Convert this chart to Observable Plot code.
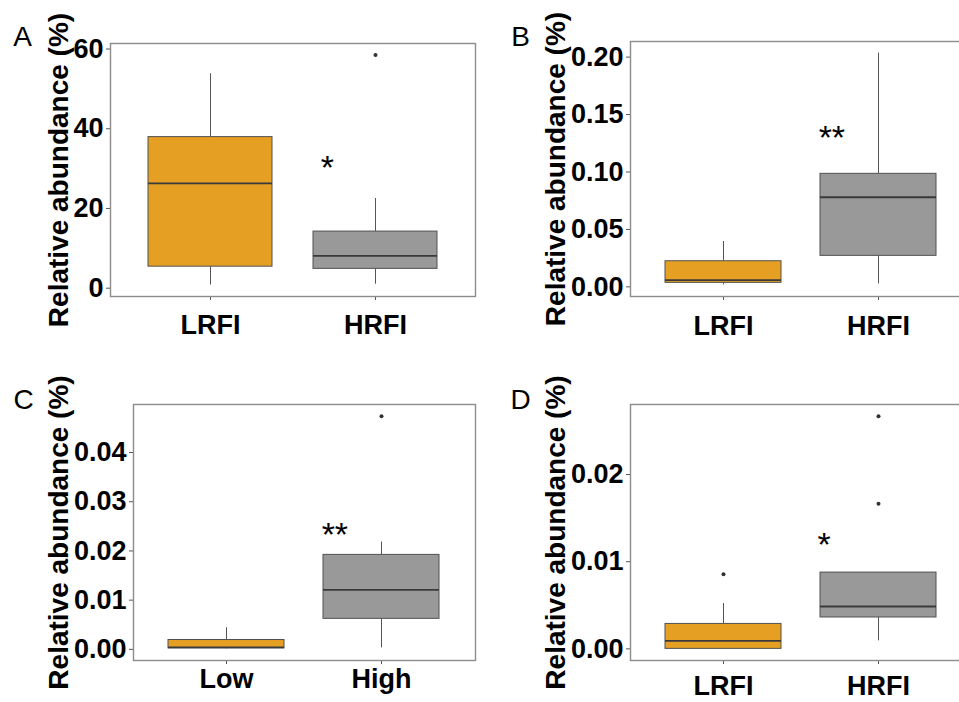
<!DOCTYPE html>
<html>
<head>
<meta charset="utf-8">
<script src="https://cdn.jsdelivr.net/npm/d3@7"></script>
<script src="https://cdn.jsdelivr.net/npm/@observablehq/plot@0.6"></script>
<style>
  html, body { margin: 0; padding: 0; background: #fff; }
  #wrap { position: relative; width: 959px; height: 702px; overflow: hidden; background: #fff; }
  .panel { position: absolute; }
</style>
</head>
<body>
<div id="wrap"></div>
<script>
// ---------- data ----------
const catsRFI = ["LRFI", "HRFI"];
const catsLevel = ["Low", "High"];
const yTitle = "Relative abundance (%)";

// Panel A
const aLo  = [0.8, 1.0];
const aQ1  = [5.4, 4.85];
const aMed = [26.3, 8.1];
const aQ3  = [37.9, 14.2];
const aHi  = [53.8, 22.5];
const aOut = [["HRFI", 58.5]];
const aTicks = [0, 20, 40, 60];
const aSig = "*", aSigY = 32.5, aSigPos = 1.71;

// Panel B
const bLo  = [0.0017, 0.0026];
const bQ1  = [0.0035, 0.027];
const bMed = [0.0058, 0.078];
const bQ3  = [0.0223, 0.0984];
const bHi  = [0.0395, 0.2035];
const bOut = [];
const bTicks = [0, 0.05, 0.10, 0.15, 0.20];
const bSig = "**", bSigY = 0.1374, bSigPos = 1.70;

// Panel C
const cLo  = [0.0001, 0.0003];
const cQ1  = [0.0002, 0.0062];
const cMed = [0.0004, 0.0121];
const cQ3  = [0.0019, 0.0192];
const cHi  = [0.0044, 0.0218];
const cOut = [["High", 0.0474]];
const cTicks = [0, 0.01, 0.02, 0.03, 0.04];
const cSig = "**", cSigY = 0.025, cSigPos = 1.70;

// Panel D
const dLo  = [0.0, 0.00092];
const dQ1  = [0.0, 0.0036];
const dMed = [0.00092, 0.00486];
const dQ3  = [0.00286, 0.00875];
const dHi  = [0.0052, 0.00875];
const dOut = [["LRFI", 0.00856], ["HRFI", 0.01666], ["HRFI", 0.0267]];
const dTicks = [0, 0.01, 0.02];
const dSig = "*", dSigY = 0.0129, dSigPos = 1.65;

const fills = ["#E5A023", "#999999"];
const fontFamily = '"Liberation Sans", Arial, Helvetica, sans-serif';

function panel(cfg) {
  const rows = cfg.cats.map((g, i) => ({g, lo: cfg.lo[i], q1: cfg.q1[i], med: cfg.med[i], q3: cfg.q3[i], hi: cfg.hi[i]}));
  const outs = cfg.out.map(([g, v]) => ({g, v}));
  const vals = [...cfg.lo, ...cfg.hi, ...outs.map(d => d.v)];
  const [mn, mx] = d3.extent(vals);
  const pad = 0.05 * (mx - mn);
  const frameW = cfg.width - cfg.mL - cfg.mR;
  const step = frameW / 2.2;
  const plot = Plot.plot({
    width: cfg.width,
    height: cfg.height,
    marginLeft: cfg.mL, marginRight: cfg.mR, marginTop: cfg.mT, marginBottom: cfg.mB,
    style: {fontFamily, background: "white", maxWidth: "none", color: "black"},
    x: {type: "band", domain: cfg.cats, paddingInner: 0.25, paddingOuter: 0.225},
    y: {domain: [mn - pad, mx + pad]},
    color: {domain: cfg.cats, range: fills},
    marks: [
      Plot.axisY({ticks: cfg.ticks, tickSize: 4, tickPadding: 3, tickFormat: cfg.fmt, fontSize: 27, fontWeight: "bold", label: null, stroke: "#555"}),
      Plot.axisX({tickSize: 4, tickPadding: cfg.xPad, fontSize: 27, fontWeight: "bold", label: null, stroke: "#555"}),
      Plot.ruleX(rows, {x: "g", y1: "lo", y2: "q1", stroke: "#555", strokeWidth: 1}),
      Plot.ruleX(rows, {x: "g", y1: "q3", y2: "hi", stroke: "#555", strokeWidth: 1}),
      Plot.barY(rows, {x: "g", y1: "q1", y2: "q3", fill: "g", stroke: "#505050", strokeWidth: 1}),
      Plot.tickY(rows, {x: "g", y: "med", stroke: "#3a3a3a", strokeWidth: 1.8}),
      Plot.dot(outs, {x: "g", y: "v", r: 2, fill: "#333", stroke: null}),
      Plot.text([{g: cfg.cats[1], v: cfg.sigY, t: cfg.sig}], {x: "g", y: "v", text: "t", dx: (cfg.sigPos - 2) * step, dy: 9, fontSize: 34, fill: "black"}),
      Plot.frame({stroke: "#8c8c8c", strokeWidth: 1.4}),
      Plot.text([yTitle], {frameAnchor: "left", rotate: -90, dx: cfg.titleDx, fontSize: 28, fontWeight: "bold", textAnchor: "middle", lineAnchor: "middle", fill: "black"}),
      Plot.text([cfg.letter], {frameAnchor: "top-left", dx: cfg.letterDx, dy: cfg.letterDy, fontSize: 28, textAnchor: "middle", lineAnchor: "middle", fill: "black"})
    ]
  });
  const div = document.createElement("div");
  div.className = "panel";
  div.style.left = cfg.left + "px";
  div.style.top = cfg.top + "px";
  div.appendChild(plot);
  document.getElementById("wrap").appendChild(div);
}

const f0 = d3.format("d"), f2 = d3.format(".2f");

panel({cats: catsRFI, lo: aLo, q1: aQ1, med: aMed, q3: aQ3, hi: aHi, out: aOut, ticks: aTicks, fmt: f0,
  sig: aSig, sigY: aSigY, sigPos: aSigPos, letter: "A",
  left: 0, top: 0, width: 480, height: 351, mL: 110, mR: 5, mT: 43, mB: 55,
  xPad: 14.5, titleDx: -51, letterDx: -88, letterDy: -6});

panel({cats: catsRFI, lo: bLo, q1: bQ1, med: bMed, q3: bQ3, hi: bHi, out: bOut, ticks: bTicks, fmt: f2,
  sig: bSig, sigY: bSigY, sigPos: bSigPos, letter: "B",
  left: 480, top: 0, width: 492, height: 351, mL: 150, mR: 0, mT: 41, mB: 55,
  xPad: 15.5, titleDx: -74, letterDx: -110, letterDy: -4});

panel({cats: catsLevel, lo: cLo, q1: cQ1, med: cMed, q3: cQ3, hi: cHi, out: cOut, ticks: cTicks, fmt: f2,
  sig: cSig, sigY: cSigY, sigPos: cSigPos, letter: "C",
  left: 0, top: 351, width: 480, height: 351, mL: 133, mR: 5, mT: 53, mB: 42,
  xPad: 4, titleDx: -74, letterDx: -110, letterDy: -4.5});

panel({cats: catsRFI, lo: dLo, q1: dQ1, med: dMed, q3: dQ3, hi: dHi, out: dOut, ticks: dTicks, fmt: f2,
  sig: dSig, sigY: dSigY, sigPos: dSigPos, letter: "D",
  left: 480, top: 351, width: 492, height: 351, mL: 150, mR: 0, mT: 53, mB: 42,
  xPad: 11.5, titleDx: -74, letterDx: -110, letterDy: -4});
</script>
</body>
</html>
